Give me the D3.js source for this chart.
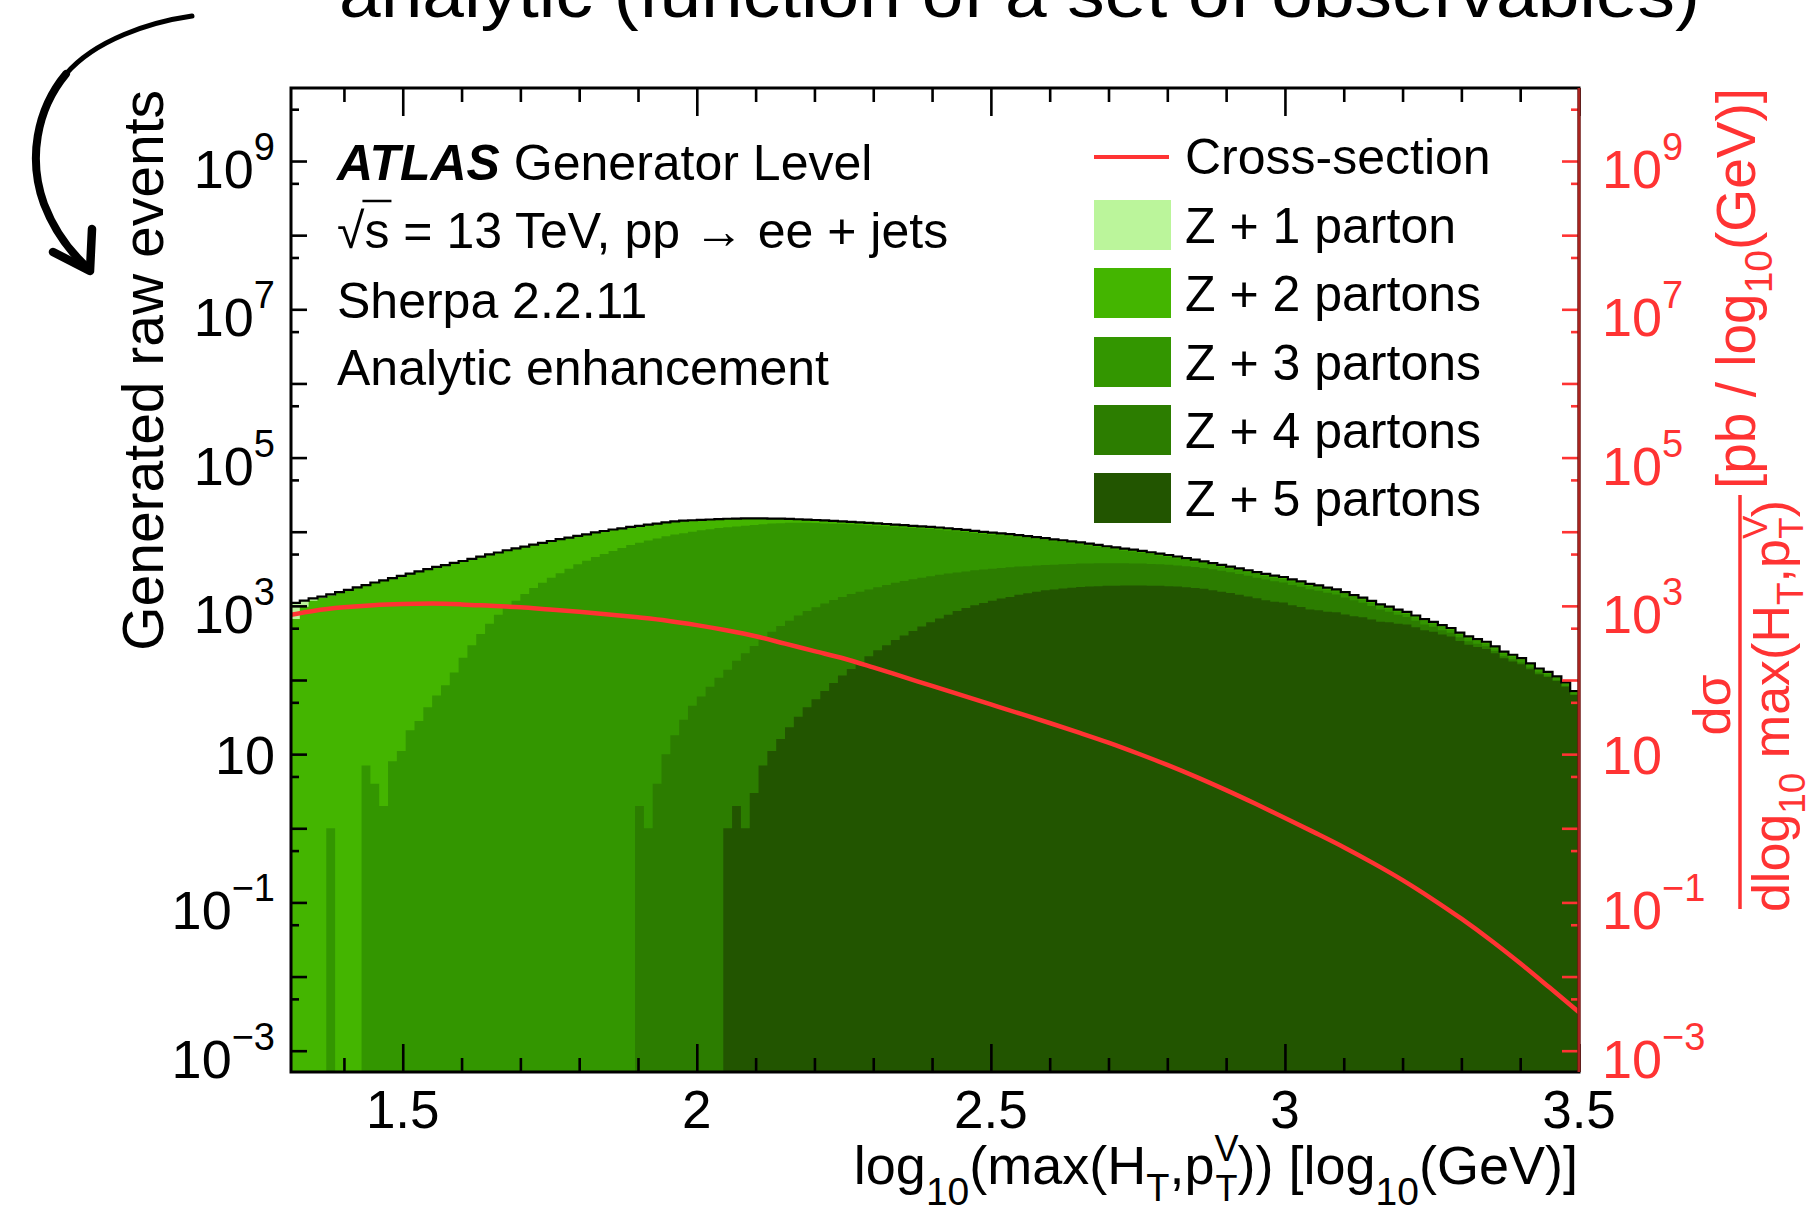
<!DOCTYPE html>
<html>
<head>
<meta charset="utf-8">
<script src="https://cdn.jsdelivr.net/npm/d3@7/dist/d3.min.js"></script>
<style>
html,body{margin:0;padding:0;background:#fff;}
svg{display:block;}
text{font-family:"Liberation Sans",Arial,Helvetica,sans-serif;}
</style>
</head>
<body>
<svg id="chart" width="1813" height="1217" viewBox="0 0 1813 1217"></svg>
<script>
// ================= DATA =================
// histogram binning of log10(max(HT,pTV))
const binStart = 1.31;
const binWidth = 0.015;

const seriesKeys   = ["z1", "z2", "z3", "z4", "z5"];
const seriesLabels = ["Z + 1 parton", "Z + 2 partons", "Z + 3 partons", "Z + 4 partons", "Z + 5 partons"];

// generated raw events per bin, per parton multiplicity (146 bins)
const z1 = [
  430,200,90,60,45,35,30,25,22,20,
  18,17,16,15,14,13,12,12,11,11,
  10,10,9,9,8,8,8,7,7,7,
  6,6,6,5,5,5,5,4,4,4,
  4,3,3,3,3,3,3,2,2,2,
  2,2,2,2,2,1,1,1,1,1,
  1,1,1,1,1,1,1,1,1,1,
  0,0,0,0,0,0,0,0,0,0,
  0,0,0,0,0,0,0,0,0,0,
  0,0,0,0,0,0,0,0,0,0,
  0,0,0,0,0,0,0,0,0,0,
  0,0,0,0,0,0,0,0,0,0,
  0,0,0,0,0,0,0,0,0,0,
  0,0,0,0,0,0,0,0,0,0,
  0,0,0,0,0,0
];
const z2 = [
  666,975,1169,1274,1383,1496,1611,1753,1876,2041,
  2193,2346,2514,2687,2875,3070,3276,3451,3665,3816,
  4010,4197,4371,4480,4660,4774,4857,4938,5030,5093,
  5183,5150,5173,5147,5196,5216,5215,5062,5003,4940,
  4855,4751,4622,4621,4572,4286,3980,3781,3569,3478,
  3315,3111,2831,2545,2182,1964,1710,1479,1371,1323,
  1248,1175,1103,1047,1004,961,918,876,835,819,
  806,791,780,764,747,728,710,680,650,620,
  590,565,540,515,490,465,443,430,416,403,
  387,372,357,344,332,321,308,296,284,272,
  260,247,236,223,211,200,189,179,169,160,
  151,143,136,128,120,113,106,99,92,86,
  78,71,65,60,55,50,46,41,38,34,
  31,27,24,22,20,18,16,14,12,11,
  9,8,7,6,5,4
];
const z3 = [
  0,0,0,0,1,0,0,0,7,4,
  2,8,11,21,28,43,62,85,126,200,
  295,417,575,759,955,1175,1445,1738,2042,2399,
  2754,3162,3631,4074,4571,5012,5495,6026,6607,7077,
  7585,8124,8700,9162,9521,9955,10411,10758,11113,11344,
  11567,11794,12015,12226,12435,12495,12552,12502,12332,12109,
  11870,11618,11382,11121,10843,10561,10245,9924,9596,9263,
  8926,8613,8349,8008,7673,7318,6966,6594,6240,5913,
  5696,5378,5065,4775,4435,4161,3875,3613,3341,3076,
  2816,2507,2253,2036,1839,1692,1485,1315,1155,992,
  866,741,621,522,439,388,347,330,311,294,
  279,264,249,235,208,195,183,164,153,142,
  130,119,109,99,91,83,76,69,63,54,
  49,41,36,33,27,25,22,19,16,14,
  12,9,8,6,5,3
];
const z4 = [
  0,0,0,0,0,0,0,0,0,0,
  0,0,0,0,0,0,0,0,0,0,
  0,0,0,0,0,0,0,0,0,0,
  0,0,0,0,0,0,0,0,0,2,
  1,4,10,18,29,45,60,81,107,137,
  180,228,285,356,436,521,608,709,808,900,
  1001,1111,1203,1304,1375,1451,1527,1610,1695,1765,
  1834,1874,1909,1954,1964,1967,1984,1997,1994,1987,
  1977,1993,1975,1949,1959,1926,1929,1913,1915,1916,
  1895,1917,1896,1896,1874,1831,1831,1811,1769,1748,
  1688,1650,1612,1538,1504,1436,1347,1278,1206,1141,
  1080,1014,955,894,847,785,725,666,603,534,
  465,401,337,280,229,183,149,118,91,75,
  58,50,41,33,29,23,18,13,13,9,
  7,6,4,3,2,1
];
const z5 = [
  0,0,0,0,0,0,0,0,0,0,
  0,0,0,0,0,0,0,0,0,0,
  0,0,0,0,0,0,0,0,0,0,
  0,0,0,0,0,0,0,0,0,0,
  0,0,0,0,0,0,0,0,0,1,
  2,1,3,7,11,16,23,32,43,55,
  71,91,115,141,174,209,251,295,347,398,
  457,525,603,676,759,851,933,1023,1096,1175,
  1259,1318,1413,1479,1549,1622,1660,1718,1758,1799,
  1820,1841,1862,1862,1884,1884,1884,1862,1862,1841,
  1820,1778,1738,1698,1622,1549,1489,1413,1334,1262,
  1194,1138,1110,1023,968,890,871,834,820,766,
  726,700,656,610,603,575,560,513,470,447,
  412,385,335,300,279,262,229,196,178,163,
  140,120,110,97,81,63
];

// cross-section dsigma/dlog10(max(HT,pTV)) [pb / log10(GeV)]
const xsecX = [1.31,1.35,1.40,1.45,1.50,1.55,1.60,1.65,1.70,1.75,1.80,1.85,1.90,1.95,2.00,
               2.05,2.10,2.15,2.20,2.25,2.30,2.35,2.40,2.45,2.50,2.55,2.60,2.65,2.70,2.75,
               2.80,2.85,2.90,2.95,3.00,3.05,3.10,3.15,3.20,3.25,3.30,3.35,3.40,3.45,3.50];
const xsecVal = [759,861,955,1023,1059,1072,1047,1000,955,891,832,767,700,631,550,
                 468,389,309,245,195,148,111,83.2,62.4,46.8,35.1,26.3,19.5,14.3,10.2,
                 7.16,4.90,3.27,2.14,1.38,0.881,0.556,0.339,0.200,0.112,0.0603,0.0309,0.0151,0.0071,0.0033];

// axes
const xDomain = [1.31, 3.5];
const yDomain = [5.16e-4, 9.66e9];
const xMajorTicks = [1.5, 2, 2.5, 3, 3.5];
const xTickLabels = ["1.5", "2", "2.5", "3", "3.5"];
const xMinorTicks = [1.4,1.6,1.7,1.8,1.9,2.1,2.2,2.3,2.4,2.6,2.7,2.8,2.9,3.1,3.2,3.3,3.4];
const yMajorTicks = [1e-3,1e-2,1e-1,1,10,1e2,1e3,1e4,1e5,1e6,1e7,1e8,1e9];
const yMinorTicks = [5e-3,5e-2,5e-1,5,50,5e2,5e3,5e4,5e5,5e6,5e7,5e8,5e9];
const yLabelExps  = [-3, -1, 1, 3, 5, 7, 9];

// ================= STYLE =================
const colors = {z1:"#bbf59b", z2:"#44b500", z3:"#339600", z4:"#2c7d00", z5:"#225500"};
const RED = "#ff3333";
const L = 291, R = 1579, T = 88, B = 1072;

// ================= DRAW =================
const svg = d3.select("#chart");
svg.append("rect").attr("width",1813).attr("height",1217).attr("fill","#fff");
svg.append("defs").append("clipPath").attr("id","clip")
   .append("rect").attr("x",L).attr("y",T).attr("width",R-L).attr("height",B-T);

const x = d3.scaleLinear().domain(xDomain).range([L, R]);
const y = d3.scaleLog().domain(yDomain).range([B, T]).clamp(true);
const yRight = d3.scaleLog().domain(yDomain).range([B, T]).clamp(true);
const yv = v => v > 0 ? y(v) : B;

const nB = z1.length;
const edges = d3.range(nB + 1).map(i => binStart + i * binWidth);
const rows = d3.range(nB).map(i => ({z1:z1[i], z2:z2[i], z3:z3[i], z4:z4[i], z5:z5[i]}));
const stacked = d3.stack().keys(["z5","z4","z3","z2","z1"])(rows);

const plotG = svg.append("g").attr("clip-path","url(#clip)");
const area = d3.area().curve(d3.curveStepAfter).x(d => x(d.x)).y0(B).y1(d => yv(d.v));
for (let j = stacked.length - 1; j >= 0; j--) {
  const layer = stacked[j];
  const pts = layer.map((d, i) => ({x: edges[i], v: d[1]}));
  pts.push({x: edges[nB], v: layer[nB - 1][1]});
  plotG.append("path").attr("d", area(pts)).attr("fill", colors[layer.key]);
}
// total outline
const totalLayer = stacked[stacked.length - 1];
const tpts = totalLayer.map((d, i) => ({x: edges[i], v: d[1]}));
tpts.push({x: edges[nB], v: totalLayer[nB - 1][1]});
plotG.append("path")
  .attr("d", d3.line().curve(d3.curveStepAfter).x(d => x(d.x)).y(d => yv(d.v))(tpts))
  .attr("fill","none").attr("stroke","#000").attr("stroke-width",2.2);

// cross-section line
plotG.append("path")
  .attr("d", d3.line().curve(d3.curveMonotoneX).x((d, i) => x(xsecX[i])).y(d => yRight(d))(xsecVal))
  .attr("fill","none").attr("stroke",RED).attr("stroke-width",4.5);

// ---- ticks ----
function tickSet(gen, tr, col, w) {
  const g = svg.append("g").attr("transform", tr).call(gen);
  g.select(".domain").remove();
  g.selectAll("text").remove();
  g.selectAll("line").attr("stroke", col).attr("stroke-width", w);
}
tickSet(d3.axisBottom(x).tickValues(xMajorTicks).tickSizeInner(-28).tickSizeOuter(0).tickFormat(""), `translate(0,${B})`, "#000", 2.6);
tickSet(d3.axisBottom(x).tickValues(xMinorTicks).tickSizeInner(-14).tickSizeOuter(0).tickFormat(""), `translate(0,${B})`, "#000", 2.6);
tickSet(d3.axisTop(x).tickValues(xMajorTicks).tickSizeInner(-28).tickSizeOuter(0).tickFormat(""), `translate(0,${T})`, "#000", 2.6);
tickSet(d3.axisTop(x).tickValues(xMinorTicks).tickSizeInner(-14).tickSizeOuter(0).tickFormat(""), `translate(0,${T})`, "#000", 2.6);
tickSet(d3.axisLeft(y).tickValues(yMajorTicks).tickSizeInner(-16).tickSizeOuter(0).tickFormat(""), `translate(${L},0)`, "#000", 2.6);
tickSet(d3.axisLeft(y).tickValues(yMinorTicks).tickSizeInner(-8).tickSizeOuter(0).tickFormat(""), `translate(${L},0)`, "#000", 2.6);
tickSet(d3.axisRight(yRight).tickValues(yMajorTicks).tickSizeInner(-17).tickSizeOuter(0).tickFormat(""), `translate(${R},0)`, RED, 2.6);
tickSet(d3.axisRight(yRight).tickValues(yMinorTicks).tickSizeInner(-8).tickSizeOuter(0).tickFormat(""), `translate(${R},0)`, RED, 2.6);

// frame
svg.append("rect").attr("x",L).attr("y",T).attr("width",R-L).attr("height",B-T)
   .attr("fill","none").attr("stroke","#000").attr("stroke-width",3);
svg.append("line").attr("x1",R).attr("x2",R).attr("y1",T).attr("y2",B)
   .attr("stroke","#a8231f").attr("stroke-width",3);

// ---- tick labels ----
const xl = svg.append("g").attr("font-size",53).attr("text-anchor","middle").attr("fill","#000");
xMajorTicks.forEach((v, i) => xl.append("text").attr("x", x(v)).attr("y", 1128).text(xTickLabels[i]));

function powLabel(g, xp, yt, e, anchor, col) {
  const t = g.append("text").attr("x", xp).attr("text-anchor", anchor).attr("fill", col).attr("font-size", 54);
  if (e === 1) {
    t.attr("y", yt + 20).text("10");
  } else {
    t.attr("y", yt + 27).text("10");
    t.append("tspan").attr("font-size", 38).attr("dy", -28).text(e < 0 ? "\u2212" + Math.abs(e) : String(e));
  }
}
const yl = svg.append("g");
yLabelExps.forEach(e => powLabel(yl, 275, y(Math.pow(10, e)), e, "end", "#000"));
yLabelExps.forEach(e => powLabel(yl, 1602, yRight(Math.pow(10, e)), e, "start", RED));

// ---- axis titles ----
svg.append("text").attr("transform","translate(163,90) rotate(-90)")
   .attr("text-anchor","end").attr("font-size",57).attr("fill","#000").text("Generated raw events");

const xt = svg.append("text").attr("x",1578).attr("y",1184).attr("text-anchor","end").attr("font-size",54).attr("fill","#000");
xt.append("tspan").text("log");
xt.append("tspan").attr("font-size",39).attr("dy",21).text("10");
xt.append("tspan").attr("dy",-21).text("(max(H");
xt.append("tspan").attr("font-size",38).attr("dy",17).text("T");
xt.append("tspan").attr("dy",-17).text(",p");
xt.append("tspan").attr("font-size",36).attr("dy",-23).text("V");
xt.append("tspan").attr("font-size",36).attr("dx",-23).attr("dy",40).text("T");
xt.append("tspan").attr("dy",-17).text(")) [log");
xt.append("tspan").attr("font-size",39).attr("dy",21).text("10");
xt.append("tspan").attr("dy",-21).text("(GeV)]");

// right title (rotated fraction)
const rt = svg.append("g").attr("transform","rotate(-90)").attr("fill",RED).attr("font-size",52);
const num = rt.append("text").attr("x",-705).attr("y",1730).attr("text-anchor","middle");
num.append("tspan").text("d\u03C3");
const den = rt.append("text").attr("x",-706).attr("y",1789).attr("text-anchor","middle");
den.append("tspan").text("dlog");
den.append("tspan").attr("font-size",37).attr("dy",16).text("10");
den.append("tspan").attr("dy",-16).text(" max(H");
den.append("tspan").attr("font-size",37).attr("dy",14).text("T");
den.append("tspan").attr("dy",-14).text(",p");
den.append("tspan").attr("font-size",35).attr("dy",-22).text("V");
den.append("tspan").attr("font-size",35).attr("dx",-23).attr("dy",36).text("T");
den.append("tspan").attr("dy",-14).text(")");
svg.append("line").attr("x1",1740).attr("x2",1740).attr("y1",495).attr("y2",909)
   .attr("stroke",RED).attr("stroke-width",3.5);
const unit = rt.append("text").attr("x",-88).attr("y",1755).attr("text-anchor","end").attr("font-size",55);
unit.append("tspan").text("[pb / log");
unit.append("tspan").attr("font-size",39).attr("dy",17).text("10");
unit.append("tspan").attr("dy",-17).text("(GeV)]");

// ---- info text ----
const info = svg.append("g").attr("font-size",50).attr("fill","#000");
const l1 = info.append("text").attr("x",337).attr("y",180);
l1.append("tspan").attr("font-weight","bold").attr("font-style","italic").text("ATLAS");
l1.append("tspan").text(" Generator Level");
const l2 = info.append("text").attr("x",337).attr("y",248).text("\u221As = 13 TeV, pp \u2192 ee + jets");
info.append("text").attr("x",337).attr("y",318).text("Sherpa 2.2.11");
info.append("text").attr("x",337).attr("y",385).text("Analytic enhancement");
{
  const n = l2.node();
  const s0 = n.getStartPositionOfChar(1).x, s1 = n.getEndPositionOfChar(1).x;
  svg.append("line").attr("x1", s0 - 2).attr("x2", s1 + 2).attr("y1", 201).attr("y2", 201)
     .attr("stroke","#000").attr("stroke-width",2.5);
}

// ---- legend ----
const leg = svg.append("g").attr("font-size",50).attr("fill","#000");
leg.append("line").attr("x1",1094).attr("x2",1169).attr("y1",157).attr("y2",157).attr("stroke",RED).attr("stroke-width",4);
leg.append("text").attr("x",1185).attr("y",174).text("Cross-section");
const rowY = [225, 293, 362, 430, 498];
seriesKeys.forEach((k, i) => {
  leg.append("rect").attr("x",1094).attr("y",rowY[i]-25).attr("width",77).attr("height",50).attr("fill",colors[k]);
  leg.append("text").attr("x",1185).attr("y",rowY[i]+18).text(seriesLabels[i]);
});

// ---- annotation (cut off at top) and hand-drawn arrow ----
svg.append("text").attr("x",339).attr("y",17).attr("font-size",68).attr("fill","#000")
   .attr("textLength",1361).attr("lengthAdjust","spacingAndGlyphs")
   .text("analytic (function of a set of observables)");
svg.append("path").attr("d","M192,16 C150,22 95,40 66,74")
   .attr("fill","none").attr("stroke","#000").attr("stroke-width",5).attr("stroke-linecap","round");
svg.append("path").attr("d","M66,74 C36,110 28,160 44,204 C54,230 70,252 88,268")
   .attr("fill","none").attr("stroke","#000").attr("stroke-width",8).attr("stroke-linecap","round");
svg.append("path").attr("d","M53,252 L90,271 L92,229")
   .attr("fill","none").attr("stroke","#000").attr("stroke-width",8.5).attr("stroke-linecap","round").attr("stroke-linejoin","round");
</script>
</body>
</html>
